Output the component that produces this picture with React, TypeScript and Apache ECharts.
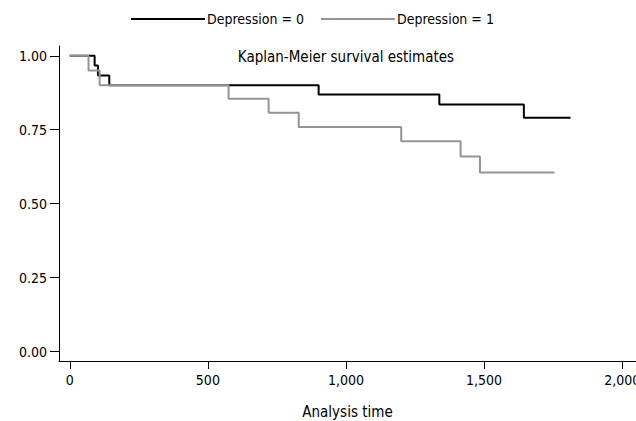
import React, { useEffect, useRef } from "react";
import * as echarts from "echarts";

const blackTime = [0, 90, 102, 143, 901, 1338, 1644, 1813];
const blackSurv = [1, 0.967, 0.933, 0.9, 0.869, 0.835, 0.79, 0.79];
const grayTime = [0, 68, 108, 575, 720, 829, 1200, 1415, 1485, 1755];
const graySurv = [1, 0.95, 0.9, 0.855, 0.807, 0.759, 0.711, 0.659, 0.605, 0.605];
const xTicks = [0, 500, 1000, 1500, 2000];
const yTicks = [0, 0.25, 0.5, 0.75, 1];
const seriesNames = ["Depression = 0", "Depression = 1"];
const titleText = "Kaplan-Meier survival estimates";
const xName = "Analysis time";

const FONT = "'DejaVu Sans Condensed', 'Liberation Sans Narrow', sans-serif";

export default function App() {
  const ref = useRef<HTMLDivElement>(null);
  useEffect(() => {
    if (!ref.current) return;
    const chart = echarts.init(ref.current, undefined, { renderer: "svg" });
    const pair = (t: number[], s: number[]) => t.map((v, i) => [v, s[i]]);
    chart.setOption({
      animation: false,
      backgroundColor: "#ffffff",
      textStyle: { fontFamily: FONT },
      grid: { left: 59, right: 0, top: 46, bottom: 60, containLabel: false, outerBoundsMode: "none" },
      legend: {
        data: seriesNames,
        icon: "rect",
        left: 126,
        top: 7,
        itemWidth: 74,
        itemHeight: 2,
        itemGap: 17,
        textStyle: { fontFamily: FONT, fontSize: 14, color: "#000", padding: [0, 0, 0, -3] },
      },
      graphic: [
        {
          type: "text",
          x: 346,
          y: 57,
          style: {
            text: titleText,
            fontFamily: FONT,
            fontSize: 15,
            fill: "#000",
            align: "center",
            verticalAlign: "middle",
          },
        },
      ],
      xAxis: {
        type: "value",
        min: -39,
        max: 2050,
        name: xName,
        nameLocation: "middle",
        nameGap: 43,
        nameTextStyle: { fontFamily: FONT, fontSize: 15, color: "#000" },
        axisLine: { show: true, onZero: false, lineStyle: { color: "#000", width: 1 } },
        axisTick: { show: true, length: 8, customValues: xTicks, lineStyle: { color: "#000", width: 1 } },
        axisLabel: {
          customValues: xTicks,
          margin: 12,
          fontFamily: FONT,
          fontSize: 14,
          color: "#000",
          formatter: (v: number) => v.toLocaleString("en-US"),
        },
        splitLine: { show: false },
      },
      yAxis: {
        type: "value",
        min: -0.032,
        max: 1.033,
        axisLine: { show: true, onZero: false, lineStyle: { color: "#000", width: 1 } },
        axisTick: { show: true, length: 9, customValues: yTicks, lineStyle: { color: "#000", width: 1 } },
        axisLabel: {
          customValues: yTicks,
          margin: 12,
          fontFamily: FONT,
          fontSize: 14,
          color: "#000",
          formatter: (v: number) => v.toFixed(2),
        },
        splitLine: { show: false },
      },
      series: [
        {
          name: seriesNames[0],
          type: "line",
          step: "end",
          symbol: "none",
          data: pair(blackTime, blackSurv),
          lineStyle: { color: "#000000", width: 2 },
          itemStyle: { color: "#000000" },
        },
        {
          name: seriesNames[1],
          type: "line",
          step: "end",
          symbol: "none",
          data: pair(grayTime, graySurv),
          lineStyle: { color: "#939598", width: 2 },
          itemStyle: { color: "#939598" },
        },
      ],
    });
    return () => chart.dispose();
  }, []);
  return (
    <div
      ref={ref}
      style={{ position: "absolute", left: 0, top: 0, width: 636, height: 421 }}
    />
  );
}
